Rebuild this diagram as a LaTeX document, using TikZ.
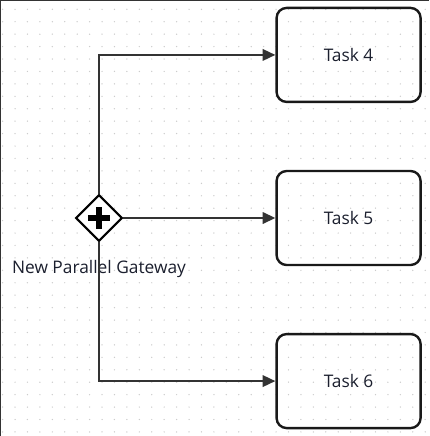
\documentclass[tikz,border=0pt]{standalone}
\usepackage{fontspec}
\setmainfont{Open Sans}
\usetikzlibrary{positioning,shapes.geometric,arrows.meta}
\definecolor{linegray}{HTML}{333333}
\definecolor{dotgray}{HTML}{CCCCCC}
\definecolor{textblue}{HTML}{1B1F2E}

\begin{document}
\begin{tikzpicture}[x=0.75pt,y=-0.75pt,>={Triangle[length=9.5pt,width=8.5pt]},
    task node/.style={draw=black!90,rectangle,rounded corners=7.5pt,line width=1.8pt,minimum width=108pt,minimum height=70.5pt,font=\fontsize{13}{15}\selectfont,text=textblue},
    gateway node/.style={draw=black,diamond,aspect=1,minimum size=35pt,inner sep=0pt,line width=1.6pt,fill=white},
    flow/.style={->,draw=linegray,line width=1.7pt}]
                \useasboundingbox (0,0) rectangle (429,436);
                % dotted grid
                \foreach \i in {0,...,34}
                    \foreach \j in {0,...,34}
                        \fill[dotgray] (2.6+12.43*\i,9.3+12.43*\j) circle (0.55pt);
                \draw[line width=0.75pt,black!80] (0,436) -- (0,0) -- (429,0);

                \node[gateway node] (gw) at (99,218) {};
                \node[task node] (t5) [right=114pt of gw] {Task 5};
                \node[task node] (t4) [above=50pt of t5] {Task 4};
                \node[task node] (t6) [below=50pt of t5] {Task 6};
                \node[font=\fontsize{13}{15}\selectfont,text=textblue] (gwlabel) at (99,268.5) {New Parallel Gateway};

                % plus marker
                \draw[line width=3.8pt] ([xshift=-8pt]gw.center) -- ([xshift=8pt]gw.center);
                \draw[line width=3.8pt] ([yshift=-8pt]gw.center) -- ([yshift=8pt]gw.center);

                \draw[flow] (gw.north) |- (t4);
                \draw[flow] (gw) -- (t5);
                \draw[flow] (gw.south) |- (t6);
            \end{tikzpicture}
\end{document}
